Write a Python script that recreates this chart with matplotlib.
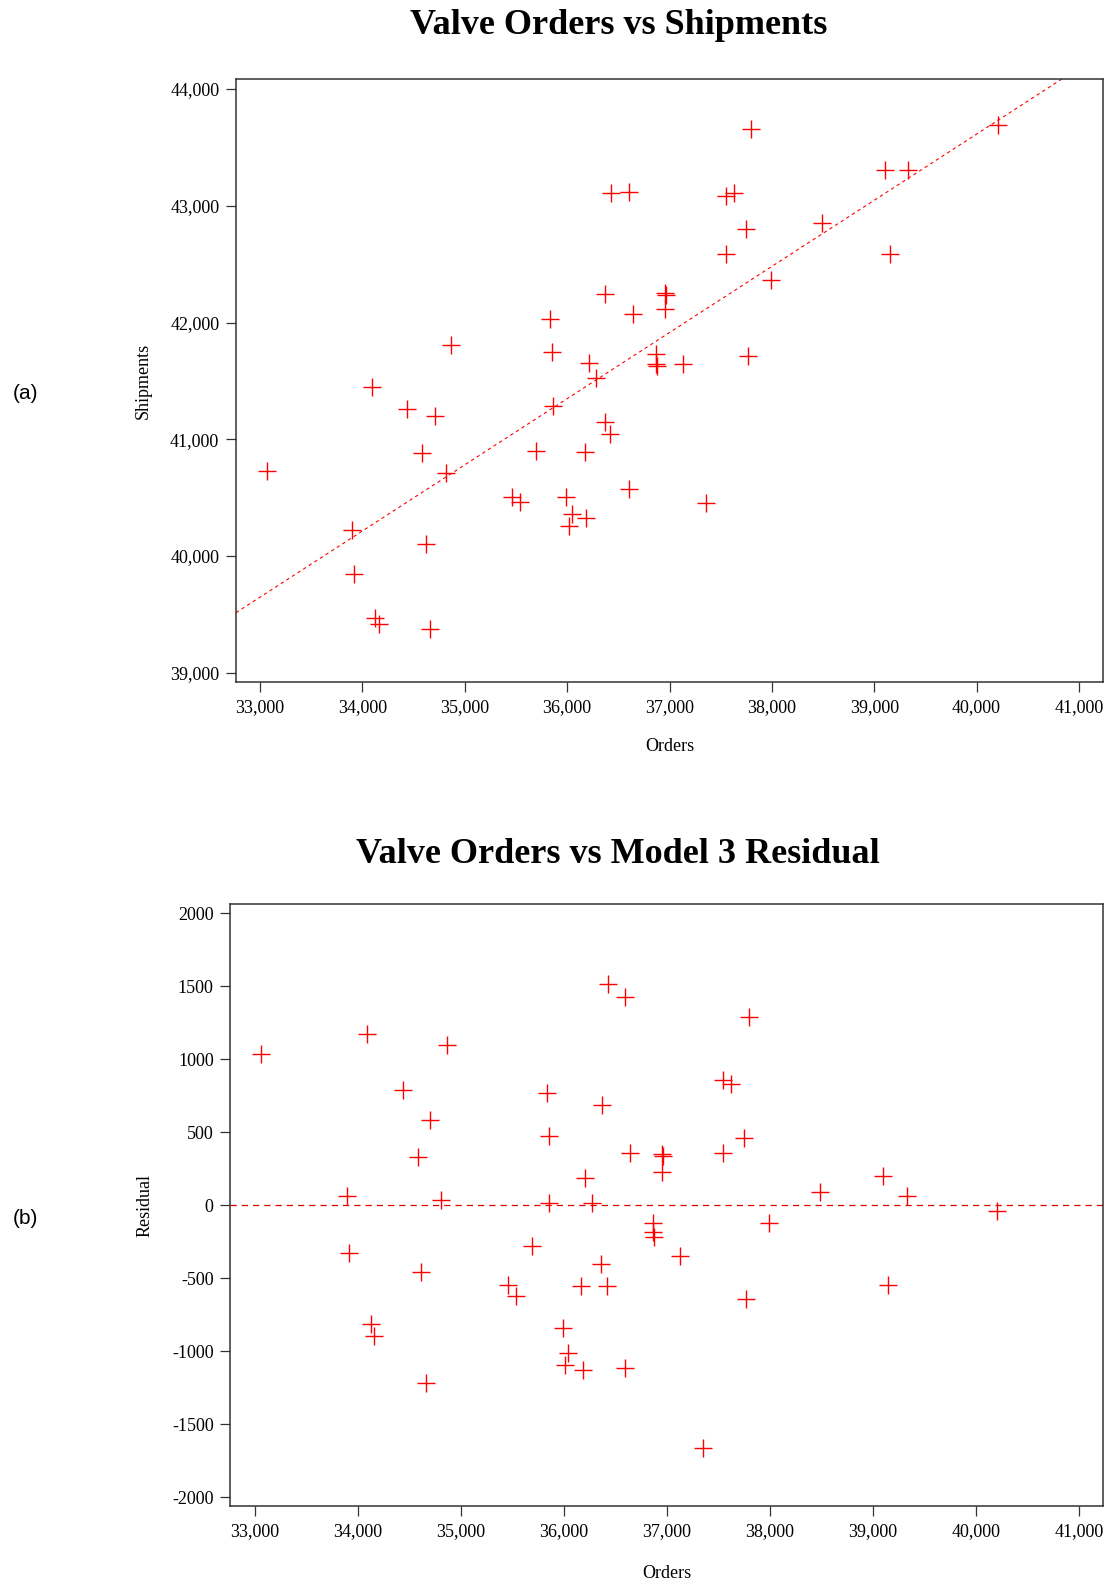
import numpy as np
import matplotlib
matplotlib.use("Agg")
import matplotlib.pyplot as plt

plt.rcParams['font.family'] = ['Liberation Serif', 'DejaVu Serif']

# data
orders = [33065, 33899, 33916, 34095, 34127, 34163, 34440, 34584, 34619, 34662,
          34707, 34812, 34867, 35463, 35542, 35691, 35835, 35854, 35857, 35991,
          36014, 36047, 36170, 36187, 36209, 36277, 36366, 36372, 36421, 36428,
          36600, 36600, 36640, 36868, 36864, 36881, 36959, 36965, 36952, 37132,
          37353, 37549, 37628, 37549, 37751, 37771, 37797, 37995, 38490, 39103,
          39152, 39331, 40207]
shipments = [40727, 40221, 39844, 41444, 39470, 39416, 41258, 40884, 40104, 39376,
             41200, 40712, 41804, 40501, 40461, 40896, 42029, 41746, 41284, 40506,
             40258, 40361, 40892, 40324, 41655, 41521, 41152, 42246, 41041, 43106,
             43117, 40575, 42072, 41727, 41645, 41625, 42255, 42232, 42115, 41644,
             40455, 43083, 43106, 42586, 42800, 41710, 43654, 42361, 42852, 43306,
             42589, 43306, 43692]
residual = [1036, 64, -327, 1171, -815, -895, 788, 333, -461, -1217,
            582, 34, 1096, -548, -623, -283, 772, 475, 12, -840,
            -1096, -1016, -555, -1130, 187, 14, -404, 687, -553, 1514,
            1425, -1114, 361, -125, -187, -217, 354, 335, 224, -349,
            -1664, 856, 833, 358, 461, -646, 1290, -119, 91, 199,
            -548, 64, -40]

x_ticks = [33000, 34000, 35000, 36000, 37000, 38000, 39000, 40000, 41000]
x_labels = ["33,000", "34,000", "35,000", "36,000", "37,000", "38,000", "39,000", "40,000", "41,000"]
ship_ticks = [39000, 40000, 41000, 42000, 43000, 44000]
ship_labels = ["39,000", "40,000", "41,000", "42,000", "43,000", "44,000"]
res_ticks = [-2000, -1500, -1000, -500, 0, 500, 1000, 1500, 2000]
res_labels = ["-2000", "-1500", "-1000", "-500", "0", "500", "1000", "1500", "2000"]


def style_axes(ax):
    for s in ax.spines.values():
        s.set_color('#333333')
        s.set_linewidth(1.1)
    ax.tick_params(direction='out', length=7, width=0.9, labelsize=13, color='#333333', pad=5)
    ax.set_xticks(x_ticks)
    ax.set_xticklabels(x_labels)
    ax.set_xlim(32765, 41235)


fig = plt.figure(figsize=(11.08, 15.81), dpi=100)

# (a) orders vs shipments with fitted line
ax1 = fig.add_axes([0.2130, 0.5686, 0.7825, 0.3812])
ax1.plot(orders, shipments, '+', color='red', markersize=13, markeredgewidth=1.0)
slope, intercept = np.polyfit(orders, shipments, 1)
xl = np.array([32765, 41235])
ax1.plot(xl, slope * xl + intercept, color='red', lw=0.8, linestyle=(0, (3, 3)))
style_axes(ax1)
ax1.set_yticks(ship_ticks)
ax1.set_yticklabels(ship_labels)
ax1.set_ylim(38920, 44083)
ax1.set_xlabel("Orders", fontsize=13, labelpad=16)
ax1.set_ylabel("Shipments", fontsize=13, labelpad=13)

# (b) orders vs residual
ax2 = fig.add_axes([0.2079, 0.0474, 0.7876, 0.3808])
ax2.plot(orders, residual, '+', color='red', markersize=13, markeredgewidth=1.0)
ax2.axhline(0, color='#dd0000', lw=0.9, linestyle=(0, (5, 4)))
style_axes(ax2)
ax2.set_yticks(res_ticks)
ax2.set_yticklabels(res_labels)
ax2.set_ylim(-2062, 2064)
ax2.set_xlabel("Orders", fontsize=13, labelpad=18)
ax2.set_ylabel("Residual", fontsize=13, labelpad=13)

fig.text(0.558, 0.984, "Valve Orders vs Shipments", ha='center', va='center',
         fontsize=26, fontweight='bold')
fig.text(0.558, 0.4595, "Valve Orders vs Model 3 Residual", ha='center', va='center',
         fontsize=26, fontweight='bold')
fig.text(0.0226, 0.7514, "(a)", ha='center', va='center', fontsize=15, family='Liberation Sans')
fig.text(0.0226, 0.2296, "(b)", ha='center', va='center', fontsize=15, family='Liberation Sans')

plt.savefig("out.png", dpi=100)
